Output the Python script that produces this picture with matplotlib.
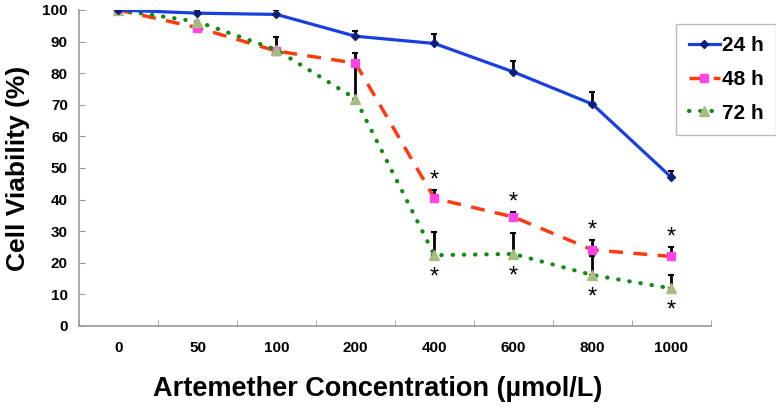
import numpy as np
import matplotlib.pyplot as plt

plt.rcParams['font.family'] = ['Liberation Sans', 'DejaVu Sans']
plt.rcParams['font.weight'] = 'bold'

# Artemether concentrations (umol/L), plotted as evenly spaced categories
conc = ['0', '50', '100', '200', '400', '600', '800', '1000']

# Cell viability (%) and upper error for each time point
v24 = [100, 99.0, 98.6, 91.7, 89.4, 80.4, 70.2, 47.0]
e24 = [0, 1.0, 1.3, 1.5, 3.0, 3.4, 4.0, 2.1]
v48 = [100, 94.4, 87.0, 83.2, 40.4, 34.5, 24.1, 22.0]
e48 = [0, 0, 0, 3.3, 2.7, 1.5, 3.1, 3.1]
v72 = [100, 96.3, 87.4, 71.9, 22.4, 22.8, 16.1, 11.9]
e72 = [0, 0, 4.0, 11.0, 7.2, 6.5, 6.0, 4.1]

# points marked significant (*): above 48 h, below 72 h
sig48 = [4, 5, 6, 7]
sig72 = [4, 5, 6, 7]

x = np.arange(len(conc))

fig = plt.figure(figsize=(7.76, 4.08), dpi=100)
ax = fig.add_axes([0.1018, 0.201, 0.8144, 0.7745])

# error bars (upper side only)
zeros = [0] * len(x)
ax.errorbar(x, v24, yerr=[zeros, e24], fmt='none', ecolor='black', elinewidth=2, capsize=2.5, capthick=1.5, zorder=2)
ax.errorbar(x, v48, yerr=[zeros, e48], fmt='none', ecolor='black', elinewidth=2, capsize=2.5, capthick=1.5, zorder=2)
ax.errorbar(x, v72, yerr=[zeros, e72], fmt='none', ecolor='black', elinewidth=2, capsize=2.5, capthick=1.5, zorder=2)

ax.plot(x, v24, color='#1a3fe0', lw=2.3, marker='D', ms=4.5, mfc='#0d1f7a', mec='#0d1f7a', label='24 h', zorder=4)
ax.plot(x, v48, color='#ff3a10', lw=2.5, ls=(0, (4, 3)), marker='s', ms=5.5, mfc='#ff44e6', mec='#ff44e6', label='48 h', zorder=3)
ax.plot(x, v72, color='#118a11', lw=3.0, ls=(0, (0.1, 2.6)), dash_capstyle='round', marker='^', ms=6.5, mfc='#a8bb80', mec='#a8bb80', label='72 h', zorder=3)

for i in sig48:
    ax.annotate('*', (x[i], v48[i] + e48[i]), xytext=(0, -1), textcoords='offset points',
                ha='center', va='bottom', fontsize=17, fontweight='normal')
for i in sig72:
    ax.annotate('*', (x[i], v72[i]), xytext=(0, -8), textcoords='offset points',
                ha='center', va='top', fontsize=17, fontweight='normal')

ax.set_xlim(-0.5, len(x) - 0.5)
ax.set_ylim(0, 100)
ax.set_yticks(np.arange(0, 101, 10))
ax.set_xticks(x)
ax.set_xticklabels(conc)
ax.set_xticks(np.arange(-0.5, len(x), 1), minor=True)
ax.tick_params(axis='x', which='major', length=0, pad=11, labelsize=11)
ax.tick_params(axis='x', which='minor', direction='in', length=4, color='#999999')
ax.tick_params(axis='y', direction='in', length=4, color='#999999', labelsize=11, pad=8)

for s in ['top', 'right']:
    ax.spines[s].set_visible(False)
for s in ['left', 'bottom']:
    ax.spines[s].set_color('#999999')
    ax.spines[s].set_linewidth(1.2)

ax.set_xlabel('Artemether Concentration (\u00b5mol/L)', fontsize=19.5, fontweight='bold', labelpad=15, x=0.473)
ax.set_ylabel('Cell Viability (%)', fontsize=19, fontweight='bold', labelpad=9)

leg = ax.legend(loc='upper left', bbox_to_anchor=(0.945, 0.956),
                fontsize=15, frameon=True, fancybox=False, handlelength=1.5, handletextpad=0.1,
                labelspacing=0.7, borderpad=0.6, borderaxespad=0)
leg.get_frame().set_edgecolor('#aaaaaa')
for t in leg.get_texts():
    t.set_fontweight('bold')

fig.savefig('out.png', dpi=100)
